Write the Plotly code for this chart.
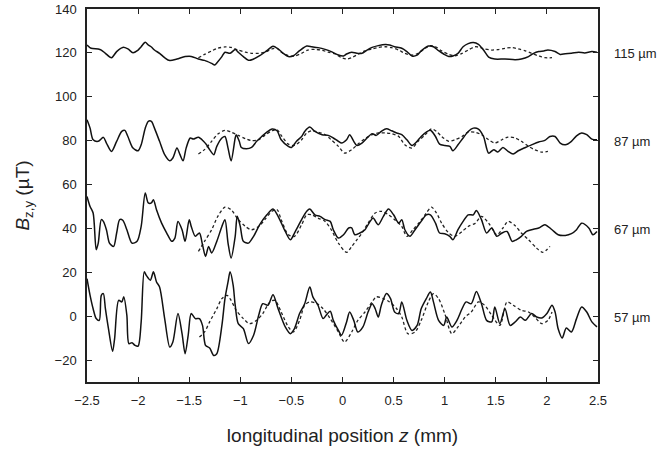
import plotly.graph_objects as go

# ---- data (z in mm, B in uT) ----
x_s115 = [-2.50,-2.46,-2.39,-2.36,-2.32,-2.26,-2.21,-2.15,-2.10,-2.05,-2.00,-1.97,-1.93,-1.90,-1.87,-1.84,-1.79,-1.74,-1.69,-1.62,-1.54,-1.48,-1.41,-1.35,-1.28,-1.25,-1.22,-1.18,-1.15,-1.10,-1.05,-1.02,-0.97,-0.92,-0.87,-0.81,-0.74,-0.68,-0.63,-0.58,-0.53,-0.48,-0.42,-0.35,-0.30,-0.24,-0.17,-0.11,-0.04,0.01,0.04,0.09,0.14,0.19,0.24,0.29,0.35,0.42,0.46,0.51,0.58,0.63,0.68,0.73,0.77,0.84,0.89,0.94,0.99,1.04,1.08,1.13,1.18,1.23,1.28,1.33,1.38,1.43,1.49,1.59,1.69,1.75,1.82,1.87,1.92,1.97,2.01,2.08,2.13,2.18,2.24,2.31,2.37,2.44,2.49]
y_s115 = [123.6,122.1,121.8,121.3,119.8,117.8,120.6,122.5,121.8,120.1,121.3,122.8,124.8,123.6,122.7,121.3,119.8,117.8,116.5,117.2,118.3,118.4,117.2,116.6,115.2,114.5,116.0,118.3,120.3,119.8,121.5,120.3,118.3,116.6,117.2,118.7,121.0,123.0,121.8,119.8,118.3,118.7,121.0,123.1,122.8,122.4,121.6,120.6,119.0,118.6,119.5,120.3,119.8,119.8,121.3,122.5,123.3,123.8,123.6,122.8,122.1,120.6,118.6,119.0,120.9,123.1,122.8,121.0,119.5,118.4,118.6,119.8,122.8,124.2,124.7,123.9,121.3,118.1,117.2,117.2,116.9,117.2,118.3,119.8,120.6,120.9,121.3,120.6,119.3,119.6,119.8,120.3,120.0,120.6,120.3]

x_d115 = [-1.41,-1.35,-1.28,-1.22,-1.15,-1.09,-1.02,-0.95,-0.89,-0.82,-0.76,-0.69,-0.64,-0.60,-0.53,-0.47,-0.40,-0.34,-0.27,-0.20,-0.14,-0.07,-0.01,0.04,0.09,0.15,0.22,0.29,0.35,0.42,0.48,0.55,0.61,0.68,0.74,0.81,0.86,0.91,0.97,1.04,1.10,1.17,1.23,1.30,1.35,1.39,1.46,1.52,1.59,1.66,1.72,1.79,1.85,1.92,1.98,2.05]
y_d115 = [117.8,119.3,120.9,122.1,122.7,122.5,121.3,120.3,119.8,119.8,120.3,121.8,122.1,120.3,118.7,118.6,119.8,121.3,121.6,121.2,120.3,119.5,117.8,117.2,117.8,119.3,120.9,121.8,122.5,122.8,122.4,121.3,119.8,119.0,119.8,122.1,123.3,122.8,120.9,119.3,118.7,119.8,121.3,122.8,122.4,121.8,121.3,121.5,122.1,122.4,121.8,120.9,119.8,118.6,117.8,117.8]

x_s87 = [-2.50,-2.47,-2.44,-2.39,-2.34,-2.31,-2.26,-2.21,-2.16,-2.13,-2.10,-2.05,-2.00,-1.97,-1.93,-1.90,-1.87,-1.84,-1.79,-1.74,-1.69,-1.66,-1.62,-1.59,-1.56,-1.53,-1.49,-1.46,-1.41,-1.36,-1.33,-1.30,-1.26,-1.23,-1.18,-1.15,-1.12,-1.09,-1.05,-1.04,-1.01,-0.99,-0.94,-0.89,-0.84,-0.79,-0.74,-0.69,-0.64,-0.60,-0.53,-0.50,-0.45,-0.40,-0.37,-0.32,-0.27,-0.20,-0.14,-0.09,-0.04,-0.01,0.04,0.07,0.11,0.14,0.19,0.24,0.29,0.33,0.38,0.43,0.48,0.53,0.58,0.63,0.68,0.73,0.77,0.82,0.86,0.91,0.95,1.00,1.05,1.08,1.13,1.18,1.23,1.28,1.33,1.38,1.43,1.48,1.52,1.57,1.62,1.67,1.72,1.79,1.85,1.92,1.98,2.03,2.08,2.13,2.18,2.24,2.29,2.34,2.39,2.44,2.49]
y_s87 = [89.5,85.7,80.4,79.7,81.5,78.9,75.1,79.7,84.2,84.7,81.9,76.6,75.4,78.1,85.7,88.8,88.8,85.7,79.7,73.6,70.8,72.1,76.6,73.6,70.8,76.6,81.2,80.7,81.5,79.7,78.1,75.9,73.6,77.4,81.2,81.9,76.6,70.8,81.2,82.7,79.7,76.9,76.3,76.9,79.7,81.9,83.9,85.3,84.5,80.4,77.4,76.9,79.7,81.9,84.2,86.2,84.2,82.7,82.4,81.2,79.7,78.9,80.4,82.7,79.7,77.8,78.9,81.2,83.2,82.4,84.2,85.4,84.5,83.5,82.7,80.4,77.8,79.7,81.9,83.9,84.7,81.9,78.4,77.8,77.4,75.4,78.1,81.2,84.2,85.7,85.3,81.9,74.3,75.9,74.8,76.9,75.1,73.9,75.4,76.9,78.1,79.4,80.1,81.9,81.9,78.9,78.1,79.7,82.2,83.5,82.7,80.7,80.4]

x_d87 = [-1.41,-1.35,-1.28,-1.22,-1.15,-1.09,-1.02,-0.95,-0.89,-0.82,-0.76,-0.69,-0.64,-0.60,-0.53,-0.47,-0.40,-0.35,-0.30,-0.24,-0.17,-0.11,-0.04,0.02,0.09,0.15,0.22,0.29,0.35,0.42,0.48,0.55,0.61,0.68,0.74,0.81,0.87,0.92,0.97,1.04,1.10,1.17,1.23,1.30,1.36,1.43,1.49,1.56,1.62,1.69,1.75,1.82,1.88,1.95,2.01]
y_d87 = [73.9,75.9,79.7,83.0,84.7,83.9,82.4,80.9,80.0,80.4,82.4,84.5,85.0,82.4,78.4,77.8,80.4,83.5,84.5,83.9,82.7,80.4,77.4,74.3,75.9,78.4,80.9,82.7,83.5,83.5,83.2,81.9,78.1,76.6,79.7,82.7,85.4,84.2,81.9,79.7,80.4,81.9,83.9,83.8,82.7,80.4,78.9,80.4,81.6,81.2,79.7,77.4,75.9,74.8,75.1]

x_s67 = [-2.50,-2.47,-2.44,-2.41,-2.39,-2.36,-2.34,-2.31,-2.28,-2.24,-2.21,-2.18,-2.15,-2.11,-2.06,-2.01,-1.97,-1.93,-1.90,-1.87,-1.85,-1.82,-1.77,-1.72,-1.67,-1.64,-1.61,-1.57,-1.54,-1.50,-1.48,-1.44,-1.40,-1.37,-1.34,-1.31,-1.28,-1.23,-1.18,-1.15,-1.12,-1.09,-1.05,-1.03,-1.00,-0.97,-0.92,-0.87,-0.81,-0.74,-0.68,-0.63,-0.56,-0.51,-0.47,-0.40,-0.35,-0.32,-0.27,-0.22,-0.17,-0.12,-0.09,-0.04,0.01,0.06,0.09,0.12,0.17,0.22,0.27,0.30,0.35,0.40,0.45,0.50,0.55,0.58,0.61,0.66,0.71,0.77,0.82,0.86,0.91,0.95,1.00,1.05,1.08,1.13,1.18,1.23,1.28,1.31,1.36,1.41,1.46,1.51,1.56,1.61,1.66,1.70,1.75,1.80,1.85,1.92,1.98,2.05,2.11,2.18,2.24,2.29,2.34,2.41,2.45,2.49]
y_s67 = [54.6,50.0,47.0,30.3,33.3,44.0,43.2,39.4,33.3,31.8,37.9,44.0,43.7,39.4,33.3,34.1,40.9,56.1,51.6,51.6,53.1,48.5,42.4,37.9,34.1,35.6,43.2,39.4,34.1,44.0,40.9,36.4,37.9,32.6,27.2,31.8,28.8,34.1,40.9,44.0,33.3,26.5,36.4,45.5,40.9,34.1,33.3,36.4,41.7,46.2,48.8,45.5,38.6,34.8,37.9,44.0,47.8,48.8,46.2,45.5,44.0,43.2,39.4,35.6,37.1,40.2,40.2,37.1,37.9,39.4,43.2,44.7,41.7,45.5,48.8,46.2,42.4,44.0,39.4,36.4,39.4,43.2,46.2,46.2,42.4,37.9,37.6,36.4,34.8,39.4,43.2,46.2,46.2,48.2,44.0,37.9,40.2,36.4,37.9,38.6,34.1,34.8,36.4,38.6,39.4,40.2,41.7,39.4,37.1,36.8,37.6,39.4,42.4,40.2,37.1,38.6]

x_d67 = [-1.41,-1.35,-1.28,-1.22,-1.15,-1.09,-1.02,-0.95,-0.89,-0.82,-0.76,-0.69,-0.64,-0.60,-0.53,-0.47,-0.40,-0.35,-0.30,-0.24,-0.17,-0.11,-0.04,0.04,0.09,0.14,0.19,0.25,0.32,0.38,0.45,0.51,0.58,0.63,0.69,0.76,0.82,0.87,0.92,0.97,1.04,1.10,1.17,1.23,1.30,1.36,1.43,1.51,1.57,1.62,1.69,1.75,1.82,1.90,1.96,2.03]
y_d67 = [29.5,34.1,39.4,45.5,49.7,48.5,44.0,40.9,39.4,40.9,44.0,47.8,48.5,44.0,37.1,36.4,41.7,46.2,46.2,44.7,43.2,39.4,33.3,29.1,31.8,34.8,37.9,42.4,47.0,47.8,46.2,44.0,40.9,36.4,39.4,43.2,47.0,49.7,47.0,42.4,37.9,36.4,38.6,40.9,42.4,45.5,42.4,37.1,40.2,43.2,41.2,37.9,34.8,31.0,29.1,31.8]

x_s57 = [-2.50,-2.47,-2.44,-2.41,-2.38,-2.36,-2.34,-2.32,-2.29,-2.25,-2.23,-2.19,-2.16,-2.14,-2.11,-2.09,-2.06,-2.03,-2.00,-1.97,-1.94,-1.92,-1.88,-1.85,-1.82,-1.79,-1.74,-1.69,-1.66,-1.61,-1.57,-1.54,-1.51,-1.48,-1.44,-1.40,-1.37,-1.34,-1.30,-1.26,-1.23,-1.18,-1.15,-1.12,-1.10,-1.07,-1.05,-1.02,-0.97,-0.92,-0.87,-0.82,-0.78,-0.73,-0.68,-0.63,-0.56,-0.51,-0.47,-0.42,-0.37,-0.32,-0.29,-0.24,-0.19,-0.16,-0.12,-0.09,-0.04,-0.01,0.04,0.07,0.11,0.15,0.20,0.25,0.29,0.32,0.35,0.38,0.43,0.47,0.51,0.55,0.58,0.63,0.68,0.73,0.77,0.82,0.86,0.89,0.94,0.99,1.02,1.07,1.12,1.17,1.21,1.26,1.31,1.36,1.41,1.46,1.49,1.54,1.59,1.64,1.69,1.74,1.79,1.85,1.90,1.95,2.00,2.05,2.08,2.11,2.15,2.19,2.24,2.29,2.34,2.39,2.44,2.49]
y_s57 = [17.1,9.5,3.4,-1.1,-1.9,9.5,10.3,3.4,-5.7,-16.0,-10.3,7.2,6.5,8.8,0.4,-12.5,-12.1,-13.3,-13.6,-2.6,20.2,18.6,16.4,20.2,15.6,13.3,-1.1,-14.1,-11.8,1.2,-8.0,-17.1,-8.7,1.2,-1.1,-1.1,-4.2,-13.3,-14.5,-17.9,-17.1,-4.2,8.0,15.6,20.2,14.1,5.0,-3.4,-5.7,-12.5,-8.7,0.4,5.7,5.0,9.8,3.4,-4.9,-8.0,-5.7,1.2,5.7,13.3,8.8,5.0,-1.1,0.4,2.2,-1.9,-6.5,-8.7,-2.6,1.9,-1.9,-7.2,-4.9,1.9,5.7,3.4,-0.4,5.0,10.3,8.0,1.9,1.2,6.5,-1.9,-6.5,-4.2,3.4,8.0,11.0,6.5,-1.9,-4.2,-0.4,-4.9,-1.9,3.4,6.5,5.7,11.3,5.7,-1.9,-2.6,4.2,-3.4,3.4,-4.2,-2.6,-0.4,-1.9,1.2,-0.4,-0.8,1.2,5.0,1.9,-5.7,-9.9,-5.4,-7.2,-1.1,4.2,1.9,-2.6,-4.9]

x_d57 = [-1.40,-1.35,-1.30,-1.23,-1.18,-1.13,-1.09,-1.04,-0.97,-0.91,-0.84,-0.78,-0.71,-0.66,-0.60,-0.53,-0.48,-0.42,-0.37,-0.32,-0.25,-0.19,-0.12,-0.04,0.02,0.09,0.15,0.22,0.29,0.33,0.40,0.46,0.53,0.58,0.64,0.71,0.77,0.84,0.89,0.94,1.00,1.07,1.13,1.20,1.26,1.33,1.39,1.46,1.54,1.61,1.67,1.75,1.82,1.88,1.95,2.01,2.05]
y_d57 = [-9.5,-7.2,-2.6,3.4,8.0,9.5,7.2,2.7,-1.1,-3.4,-1.9,1.2,6.5,7.2,1.9,-4.9,-7.2,-1.9,5.0,6.5,5.7,3.4,-1.1,-7.2,-11.8,-7.2,-1.9,1.9,6.5,8.8,8.0,6.5,3.4,-0.4,-8.0,-7.2,-1.9,6.5,10.3,8.0,1.2,-8.0,-4.9,-0.4,1.9,6.5,5.0,0.4,-4.2,6.5,5.0,2.7,1.9,-0.4,-3.4,-1.9,1.9]

labels = ["115 \u00b5m", "87 \u00b5m", "67 \u00b5m", "57 \u00b5m"]
label_y = [120, 80, 40, 0]
x_ticks = [-2.5, -2, -1.5, -1, -0.5, 0, 0.5, 1, 1.5, 2, 2.5]
x_ticktext = ["\u22122.5", "\u22122", "\u22121.5", "\u22121", "\u22120.5", "0", "0.5", "1", "1.5", "2", "2.5"]
y_ticks = [-20, 0, 20, 40, 60, 80, 100, 120, 140]
y_ticktext = ["\u221220", "0", "20", "40", "60", "80", "100", "120", "140"]

solid = [(x_s115, y_s115), (x_s87, y_s87), (x_s67, y_s67), (x_s57, y_s57)]
dashed = [(x_d115, y_d115), (x_d87, y_d87), (x_d67, y_d67), (x_d57, y_d57)]

fig = go.Figure()
for xs, ys in dashed:
    fig.add_trace(go.Scatter(x=xs, y=ys, mode="lines",
                             line=dict(color="#222", width=1.3, dash="3px,2.5px", shape="spline", smoothing=0.8),
                             showlegend=False, hoverinfo="skip"))
for xs, ys in solid:
    fig.add_trace(go.Scatter(x=xs, y=ys, mode="lines",
                             line=dict(color="#111", width=1.5, shape="spline", smoothing=0.8),
                             showlegend=False, hoverinfo="skip"))

for t, yv in zip(labels, label_y):
    fig.add_annotation(x=1, xref="paper", y=yv, yref="y", text=t, showarrow=False,
                       xanchor="left", xshift=14, yshift=-1, font=dict(size=13, color="#222"))

font_family = "Liberation Sans, Arial, Helvetica, sans-serif"
axis_common = dict(showline=True, linecolor="#222", linewidth=1.5, mirror="ticks",
                   ticks="inside", ticklen=5, tickcolor="#222", tickwidth=1,
                   showgrid=False, zeroline=False, automargin=False,
                   tickfont=dict(size=13, color="#222"))

fig.update_xaxes(range=[-2.5, 2.5], tickvals=x_ticks, ticktext=x_ticktext, ticklabelstandoff=6,
                 title=dict(text="longitudinal position <i>z</i> (mm)", font=dict(size=19, color="#222"), standoff=21),
                 **axis_common)
fig.update_yaxes(range=[-30, 140], tickvals=y_ticks, ticktext=y_ticktext, ticklabelstandoff=6,
                 title=dict(text="<i>B</i><sub>z,y</sub> (\u00b5T)", font=dict(size=19, color="#222"), standoff=20),
                 **axis_common)

fig.update_layout(width=664, height=453, margin=dict(l=87, r=66, t=9, b=71),
                  plot_bgcolor="white", paper_bgcolor="white",
                  font=dict(family=font_family, color="#222"))

fig.write_html("out.html", config={"displayModeBar": False},
               post_script="document.body.style.margin='0';document.body.style.overflow='hidden';")
